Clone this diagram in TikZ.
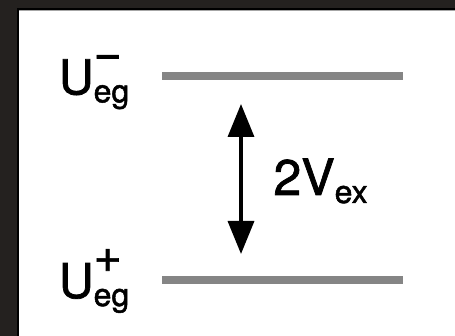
\documentclass[tikz,border=0pt]{standalone}
\usepackage{fontspec}
\setmainfont[FakeBold=1.5,BoldFont={TeX Gyre Heros}]{TeX Gyre Heros}
\usetikzlibrary{arrows.meta}
\definecolor{bgdark}{HTML}{24211F}
\definecolor{levelgray}{HTML}{858585}
\newcommand{\bigf}{\fontsize{48}{48}\selectfont}
\newcommand{\subf}{\fontsize{32}{32}\selectfont}
\newcommand{\midf}{\fontsize{50}{50}\selectfont}
\tikzset{
  level/.style={draw=levelgray, line width=8pt},
  lbl/.style={anchor=base west, inner sep=0pt, outer sep=0pt},
  gap/.style={line width=3.5pt, {Triangle[width=26pt,length=33pt]}-{Triangle[width=26pt,length=33pt]}, shorten <=0pt, shorten >=0pt}
}
\begin{document}
\begin{tikzpicture}[x=1pt,y=-1pt]
\useasboundingbox (0,0) rectangle (455,336);
\fill[bgdark] (0,0) rectangle (455,336);
\fill[white] (19,10) rectangle (455,336);
\draw[black, line width=2pt] (18,336) -- (18,9) -- (455,9);
\draw[gray!70, line width=0.8pt] (19,10.4) -- (455,10.4);
% levels
\coordinate (l1a) at (162,76.5);
\coordinate (l1b) at (403,76.5);
\coordinate (l2a) at (162,280.5);
\coordinate (l2b) at (403,280.5);
\draw[level] (l1a) -- (l1b);
\draw[level] (l2a) -- (l2b);
% labels
\node[lbl] (uminus) at (59,94.3) {\bigf U\rlap{\raisebox{-8pt}{\subf eg}}\raisebox{25.5pt}{\bigf\textminus}};
\node[lbl] (uplus) at (59,298) {\bigf U\rlap{\raisebox{-8pt}{\subf eg}}\raisebox{26pt}{\bigf +}};
\node[lbl] (vex) at (273.5,195) {\midf 2V\raisebox{-8pt}{\subf ex}};
% arrow
\coordinate (atop) at (241,104);
\coordinate (abot) at (241,254);
\draw[gap] (atop) -- (abot);
\end{tikzpicture}
\end{document}
